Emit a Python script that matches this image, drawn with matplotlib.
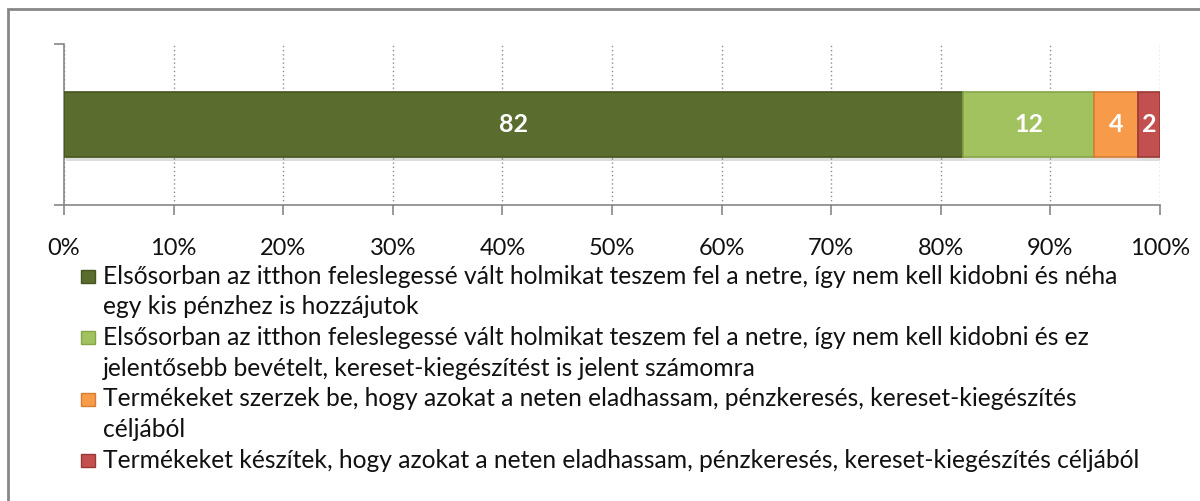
# Egysoros, 100%-ra halmozott sávdiagram a netes eladási motivációkról,
# a legenda a diagram alatt, sortöréses címkékkel.

import matplotlib.pyplot as plt
import matplotlib.patheffects as pe
from matplotlib.patches import Rectangle

plt.rcParams['font.family'] = ['Lato', 'DejaVu Sans']

labels = [
    "Elsősorban az itthon feleslegessé vált holmikat teszem fel a netre, így nem kell kidobni és néha\n"
    "egy kis pénzhez is hozzájutok",
    "Elsősorban az itthon feleslegessé vált holmikat teszem fel a netre, így nem kell kidobni és ez\n"
    "jelentősebb bevételt, kereset-kiegészítést is jelent számomra",
    "Termékeket szerzek be, hogy azokat a neten eladhassam, pénzkeresés, kereset-kiegészítés\n"
    "céljából",
    "Termékeket készítek, hogy azokat a neten eladhassam, pénzkeresés, kereset-kiegészítés céljából",
]
values = [82, 12, 4, 2]
colors = ["#5b6c2f", "#a2c25f", "#f79a4a", "#c2504f"]
edge_colors = ["#46541f", "#86a548", "#d77d33", "#9a3835"]
ticks = list(range(0, 101, 10))
tick_labels = [f"{t}%" for t in ticks]

W, H = 1200, 501
fig = plt.figure(figsize=(W / 100, H / 100), dpi=100)

# keret (csak bal és felső oldala látszik)
fig.patches.append(Rectangle((8 / W, -0.05), 1.1, 1 - 9 / H + 0.05,
                             transform=fig.transFigure, fill=False,
                             edgecolor="#878787", linewidth=2))

ax = fig.add_axes([64 / W, 1 - 205 / H, (1160 - 64) / W, 161 / H])

left = 0
shadow = [pe.SimplePatchShadow(offset=(1.5, -3), alpha=0.15), pe.Normal()]
for v, c, e in zip(values, colors, edge_colors):
    ax.barh(0, v, left=left, height=0.404, color=c, edgecolor=e,
            linewidth=1.2, path_effects=shadow, zorder=3)
    ax.text(left + v / 2, 0, str(v), ha="center", va="center",
            color="white", fontsize=18, fontweight="bold", zorder=4)
    left += v

ax.set_xlim(0, 100)
ax.set_ylim(-0.5, 0.5)
ax.set_xticks(ticks)
ax.set_xticklabels(tick_labels, fontsize=17, color="#111111")
ax.set_yticks([-0.5, 0.5])
ax.set_yticklabels([])
ax.tick_params(axis="x", direction="out", length=7, width=1.2,
               color="#878787", pad=17)
ax.tick_params(axis="y", direction="out", length=7, width=1.2,
               color="#878787")
ax.grid(axis="x", linestyle=(0, (1, 2)), color="#8c8c8c", linewidth=1,
        zorder=0)
for side in ("top", "right"):
    ax.spines[side].set_visible(False)
for side in ("left", "bottom"):
    ax.spines[side].set_color("#878787")
    ax.spines[side].set_linewidth(1.2)

# legenda a diagram alatt
line_y = 276
step = 30.7
for lab, c, e in zip(labels, colors, edge_colors):
    lines = lab.split("\n")
    fig.patches.append(Rectangle((81 / W, 1 - (line_y + 7) / H), 14 / W, 13 / H,
                                 transform=fig.transFigure, facecolor=c,
                                 edgecolor=e, linewidth=1))
    for ln in lines:
        fig.text(103 / W, 1 - line_y / H, ln, ha="left", va="center",
                 fontsize=17.7, color="#111111")
        line_y += step

fig.savefig("out.png", dpi=100)
plt.close(fig)
